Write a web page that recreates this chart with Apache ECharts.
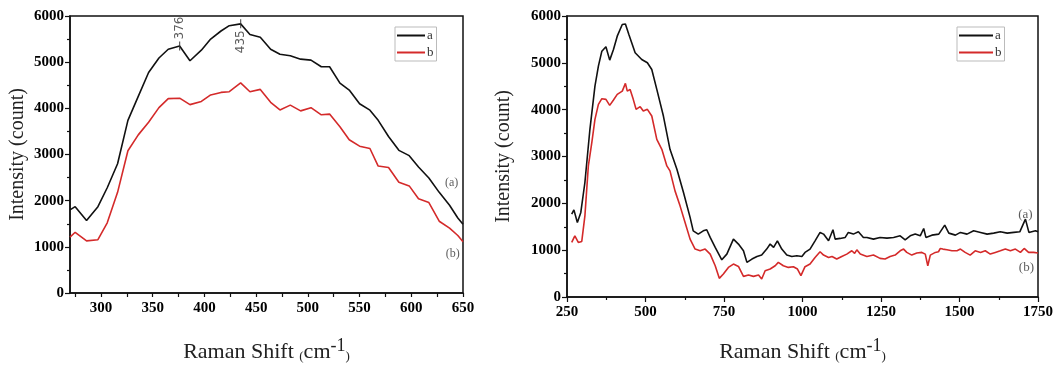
<!DOCTYPE html>
<html><head><meta charset="utf-8">
<script src="https://cdn.jsdelivr.net/npm/echarts@6/dist/echarts.min.js"></script>
<style>html,body{margin:0;padding:0;background:#fff}#c{width:1060px;height:368px}</style>
</head><body><div id="c"></div>
<script>
// ---- Left panel (zoomed 270–650 cm-1) ----
const zoomShift = [270,275,286,297,306,316,326,336,346,356,365,376,386,397,406,416,424,435,444,454,464,473,483,493,503,513,521,531,540,550,560,568,578,588,598,607,617,627,637,645,650];
const zoomA = [1800,1870,1570,1870,2280,2800,3740,4260,4775,5090,5280,5350,5030,5260,5500,5675,5790,5830,5600,5540,5280,5170,5140,5065,5045,4900,4900,4545,4395,4100,3960,3740,3390,3090,2975,2730,2490,2180,1900,1625,1490];
const zoomB = [1210,1315,1130,1155,1520,2180,3080,3425,3700,4015,4210,4220,4080,4150,4290,4345,4360,4550,4360,4410,4130,3965,4070,3945,4015,3860,3875,3600,3320,3180,3130,2750,2720,2400,2320,2040,1960,1555,1405,1245,1110];

// ---- Right panel (full 250–1750 cm-1) ----
const fullShiftA = [265,272,283,294,307,323,339,350,361,374,386,398,410,426,436,447,467,488,506,520,536,557,578,600,621,642,652,668,684,695,706,722,743,759,780,796,812,823,839,855,870,886,897,908,920,934,950,966,982,998,1008,1024,1040,1056,1067,1083,1097,1104,1120,1136,1146,1162,1178,1194,1205,1226,1247,1269,1290,1311,1327,1343,1359,1375,1386,1393,1412,1434,1453,1466,1487,1503,1524,1545,1567,1588,1609,1630,1652,1673,1692,1710,1721,1742,1750];
const fullIntA = [1769,1861,1592,1805,2445,3581,4503,4930,5249,5343,5058,5286,5569,5818,5830,5605,5215,5072,5002,4859,4433,3864,3154,2728,2231,1700,1413,1343,1413,1435,1272,1059,795,916,1236,1130,987,739,810,866,895,1023,1130,1059,1200,1023,895,866,880,866,952,1023,1200,1379,1343,1200,1435,1236,1251,1272,1379,1343,1392,1272,1272,1236,1272,1257,1272,1307,1222,1307,1343,1307,1463,1272,1321,1343,1535,1364,1321,1379,1343,1413,1379,1343,1364,1392,1364,1379,1392,1662,1379,1413,1392];
const fullShiftB = [265,275,286,297,307,318,329,339,350,361,374,386,398,410,426,436,442,451,461,470,483,493,506,520,536,552,568,578,594,610,626,642,658,674,690,706,722,735,748,764,780,796,812,828,844,860,870,881,897,913,923,939,955,971,984,995,1008,1024,1040,1056,1067,1083,1094,1109,1125,1141,1157,1166,1173,1184,1205,1226,1247,1263,1279,1295,1311,1322,1332,1348,1364,1380,1391,1399,1407,1423,1433,1439,1447,1460,1476,1492,1503,1518,1534,1550,1567,1582,1598,1614,1630,1646,1662,1678,1694,1706,1720,1736,1750];
const fullIntB = [1165,1307,1165,1187,1733,2799,3297,3794,4113,4234,4220,4092,4206,4326,4397,4561,4397,4433,4220,4007,4064,3971,4007,3864,3367,3154,2799,2692,2266,1946,1592,1236,1023,987,1023,916,667,398,490,632,703,653,440,469,440,469,384,561,597,667,739,667,632,647,597,455,647,703,845,966,895,845,866,810,866,916,987,931,1008,916,866,895,824,810,866,895,987,1023,952,895,938,952,916,667,895,952,966,1037,1023,1008,987,987,1023,952,895,987,952,987,916,952,987,1023,987,1023,952,1037,952,952,938];

// ---- Ticks & annotations ----
const zoomXLabels = [300,350,400,450,500,550,600,650];
const zoomXTicks = [275,300,325,350,375,400,425,450,475,500,525,550,575,600,625,650];
const peakShift = [376,435];
const peakInt = [5350,5830];
const peakText = ['376','435'];
const tagText = ['(a)','(b)'];
const zoomTagShift = [639,640];
const zoomTagInt = [2380,848];
const fullTagShift = [1710,1713];
const fullTagInt = [1769,618];

const BLACK = '#111111', RED = '#d42a2a';
const SERIF = '"Liberation Serif","Times New Roman",serif';
const zip = (a,b) => a.map((v,i)=>[v,b[i]]);
const plain = v => String(v);

const xName = '{t|Raman Shift }{p|(}{t|cm}{s|-1}{p|)}';
const xNameStyle = {
  color:'#222', fontFamily:SERIF,
  rich:{
    t:{fontSize:22, fontFamily:SERIF, color:'#222', lineHeight:26, verticalAlign:'bottom'},
    p:{fontSize:13, fontFamily:SERIF, color:'#222', lineHeight:18, verticalAlign:'bottom'},
    s:{fontSize:18, fontFamily:SERIF, color:'#222', lineHeight:12, verticalAlign:'top'}
  }
};
const tickLabel = {color:'#000', fontFamily:SERIF, fontWeight:'bold', fontSize:15, formatter:plain};
const axLine = {show:true, lineStyle:{color:BLACK, width:1.5}};

function yAxis(grid, gap){
  return {
    type:'value', gridIndex:grid, min:0, max:6000, interval:1000,
    name:'Intensity (count)', nameLocation:'middle', nameGap:gap, nameRotate:90,
    nameTextStyle:{fontFamily:SERIF, fontSize:20, color:'#222'},
    axisLine:axLine, splitLine:{show:false},
    axisTick:{show:true, length:5, lineStyle:{color:BLACK, width:1.2}},
    minorTick:{show:true, splitNumber:2, length:3, lineStyle:{color:BLACK, width:1.2}},
    axisLabel:Object.assign({margin:6}, tickLabel)
  };
}
function legend(left, w){
  return {data:['a','b'], left:left, top:27, orient:'vertical', icon:'rect', itemWidth:w, itemHeight:2, itemGap:4,
    padding:[2,3,2,2], borderColor:'#bbb', borderWidth:1,
    textStyle:{fontFamily:SERIF, fontSize:13, color:'#333', lineHeight:13, padding:[0,0,0,-3]}};
}

const chart = echarts.init(document.getElementById('c'), null, {renderer:'canvas'});
chart.setOption({
  animation:false,
  backgroundColor:'#fff',
  grid:[
    {left:70, top:16, width:393, height:290, show:true, borderColor:BLACK, borderWidth:1.5, backgroundColor:'transparent'},
    {left:567, top:16, width:471, height:282, show:true, borderColor:BLACK, borderWidth:1.5, backgroundColor:'transparent'}
  ],
  xAxis:[
    {type:'value', gridIndex:0, min:270, max:650,
     name:xName, nameLocation:'middle', nameGap:44, nameTextStyle:xNameStyle,
     axisLine:axLine, splitLine:{show:false},
     axisTick:{show:true, length:4, customValues:zoomXTicks, lineStyle:{color:BLACK, width:1.2}},
     axisLabel:Object.assign({margin:8, customValues:zoomXLabels}, tickLabel)},
    {type:'value', gridIndex:1, min:250, max:1750, interval:250,
     name:xName, nameLocation:'middle', nameGap:40, nameTextStyle:xNameStyle,
     axisLine:axLine, splitLine:{show:false},
     axisTick:{show:true, length:5, lineStyle:{color:BLACK, width:1.2}},
     minorTick:{show:true, splitNumber:2, length:3, lineStyle:{color:BLACK, width:1.2}},
     axisLabel:Object.assign({margin:8}, tickLabel)}
  ],
  yAxis:[ yAxis(0, 42), yAxis(1, 53) ],
  legend:[ legend(395, 28), legend(957, 34) ],
  series:[
    {name:'a', type:'line', xAxisIndex:0, yAxisIndex:0, data:zip(zoomShift, zoomA), symbol:'none',
     lineStyle:{color:BLACK, width:1.6}, itemStyle:{color:BLACK}},
    {name:'b', type:'line', xAxisIndex:0, yAxisIndex:0, data:zip(zoomShift, zoomB), symbol:'none',
     lineStyle:{color:RED, width:1.6}, itemStyle:{color:RED}},
    {name:'a', type:'line', xAxisIndex:1, yAxisIndex:1, data:zip(fullShiftA, fullIntA), symbol:'none',
     lineStyle:{color:BLACK, width:1.6}, itemStyle:{color:BLACK}},
    {name:'b', type:'line', xAxisIndex:1, yAxisIndex:1, data:zip(fullShiftB, fullIntB), symbol:'none',
     lineStyle:{color:RED, width:1.6}, itemStyle:{color:RED}},
    {name:'peaks', type:'scatter', xAxisIndex:0, yAxisIndex:0, symbol:'rect', symbolSize:[1.2,9],
     itemStyle:{color:'#333'}, silent:true, z:5,
     data: peakShift.map((x,i)=>({value:[x, peakInt[i]], name:peakText[i],
       label:{position: i===0 ? 'top' : 'bottom', align: i===0 ? 'left' : 'right'}})),
     label:{show:true, rotate:90, verticalAlign:'middle', distance:2, formatter:p=>p.name,
       fontFamily:'"DejaVu Sans",sans-serif', fontSize:12, color:'#333'}},
    {name:'tagsL', type:'scatter', xAxisIndex:0, yAxisIndex:0, symbolSize:0, silent:true,
     data: tagText.map((t,i)=>({value:[zoomTagShift[i], zoomTagInt[i]], name:t})),
     label:{show:true, position:'inside', formatter:p=>p.name, fontFamily:SERIF, fontSize:12, color:'#333'}},
    {name:'tagsR', type:'scatter', xAxisIndex:1, yAxisIndex:1, symbolSize:0, silent:true,
     data: tagText.map((t,i)=>({value:[fullTagShift[i], fullTagInt[i]], name:t})),
     label:{show:true, position:'inside', formatter:p=>p.name, fontFamily:SERIF, fontSize:13, color:'#333'}}
  ]
});
</script></body></html>
